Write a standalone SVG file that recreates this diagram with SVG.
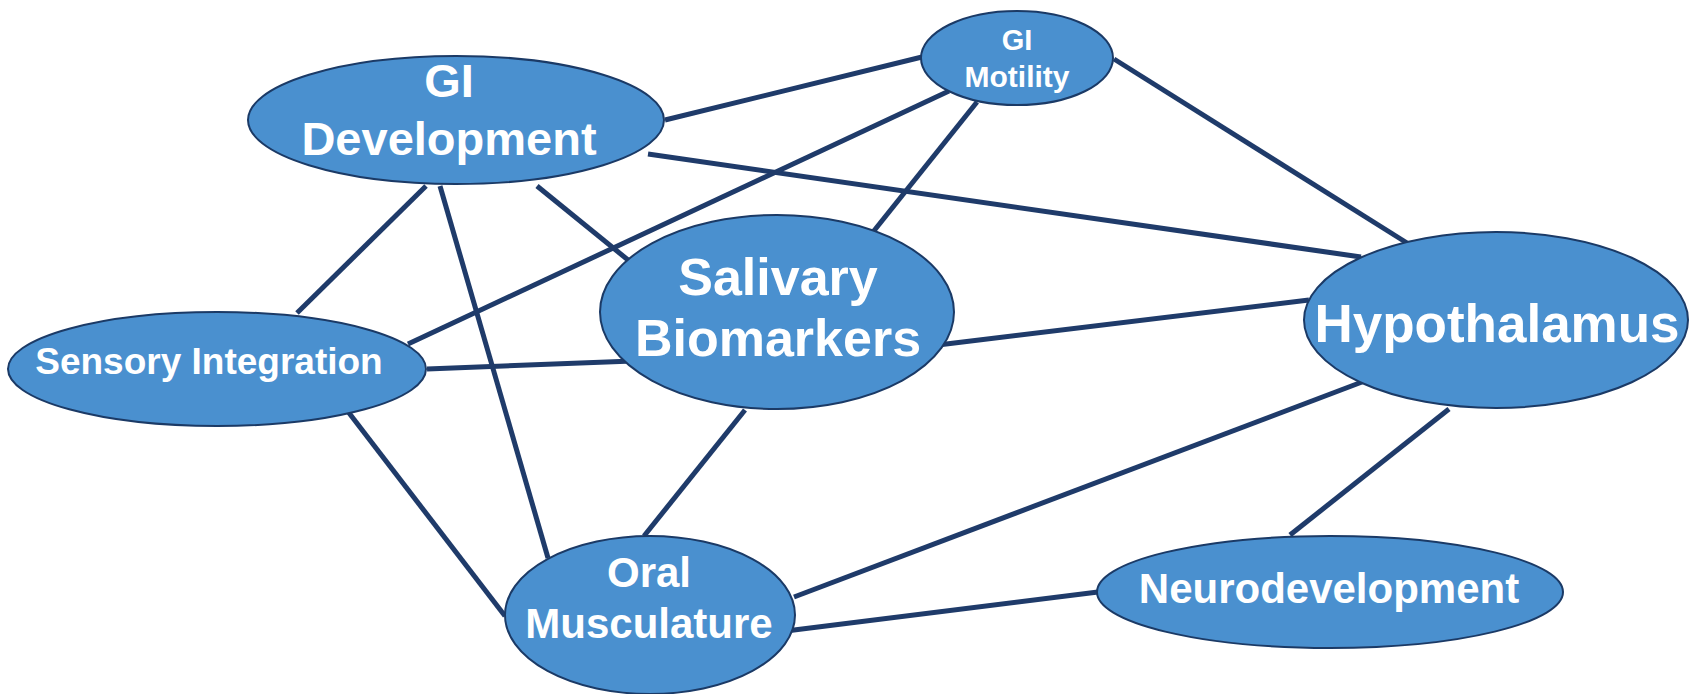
<svg xmlns="http://www.w3.org/2000/svg" width="1699" height="694" viewBox="0 0 1699 694">
<style>
.n{fill:#4a90cf;stroke:#1b3a66;stroke-width:2}
.t{font-family:"Liberation Sans",Arial,sans-serif;font-weight:bold;fill:#ffffff;text-anchor:middle}
.c line{stroke:#1f3b6a;stroke-width:5;stroke-linecap:butt}
</style>
<rect width="1699" height="694" fill="#ffffff"/>
<g id="connectors" class="c">
<line x1="665" y1="120" x2="922" y2="57"/>
<line x1="648" y1="154" x2="1361" y2="257"/>
<line x1="426" y1="186" x2="297" y2="313"/>
<line x1="440" y1="186" x2="548" y2="558"/>
<line x1="537" y1="186" x2="633" y2="264"/>
<line x1="949" y1="91" x2="408" y2="344"/>
<line x1="977" y1="102" x2="873" y2="232"/>
<line x1="1114" y1="59" x2="1415" y2="248"/>
<line x1="427" y1="369" x2="633" y2="361"/>
<line x1="346" y1="409" x2="505" y2="616"/>
<line x1="938" y1="345" x2="1309" y2="300"/>
<line x1="745" y1="410" x2="644" y2="536"/>
<line x1="1362" y1="382" x2="794" y2="597"/>
<line x1="1449" y1="409" x2="1290" y2="535"/>
<line x1="778" y1="632" x2="1098" y2="592"/>
</g>
<g id="gi-development">
<ellipse class="n" cx="456" cy="120" rx="208" ry="64"/>
<text class="t" x="449" y="97" font-size="47">GI</text>
<text class="t" x="449" y="155" font-size="47">Development</text>
</g>
<g id="gi-motility">
<ellipse class="n" cx="1017" cy="58" rx="96" ry="47"/>
<text class="t" x="1017" y="50" font-size="29">GI</text>
<text class="t" x="1017" y="87" font-size="30">Motility</text>
</g>
<g id="sensory-integration">
<ellipse class="n" cx="217" cy="369" rx="209" ry="57"/>
<text class="t" x="209" y="374" font-size="37">Sensory Integration</text>
</g>
<g id="salivary-biomarkers">
<ellipse class="n" cx="777" cy="312" rx="177" ry="97"/>
<text class="t" x="778" y="295" font-size="52">Salivary</text>
<text class="t" x="778" y="356" font-size="52">Biomarkers</text>
</g>
<g id="hypothalamus">
<ellipse class="n" cx="1496" cy="320" rx="192" ry="88"/>
<text class="t" x="1497" y="342" font-size="53">Hypothalamus</text>
</g>
<g id="oral-musculature">
<ellipse class="n" cx="650" cy="615" rx="145" ry="79"/>
<text class="t" x="649" y="587" font-size="42">Oral</text>
<text class="t" x="649" y="638" font-size="42">Musculature</text>
</g>
<g id="neurodevelopment">
<ellipse class="n" cx="1330" cy="592" rx="233" ry="56"/>
<text class="t" x="1329" y="603" font-size="42">Neurodevelopment</text>
</g>
</svg>
